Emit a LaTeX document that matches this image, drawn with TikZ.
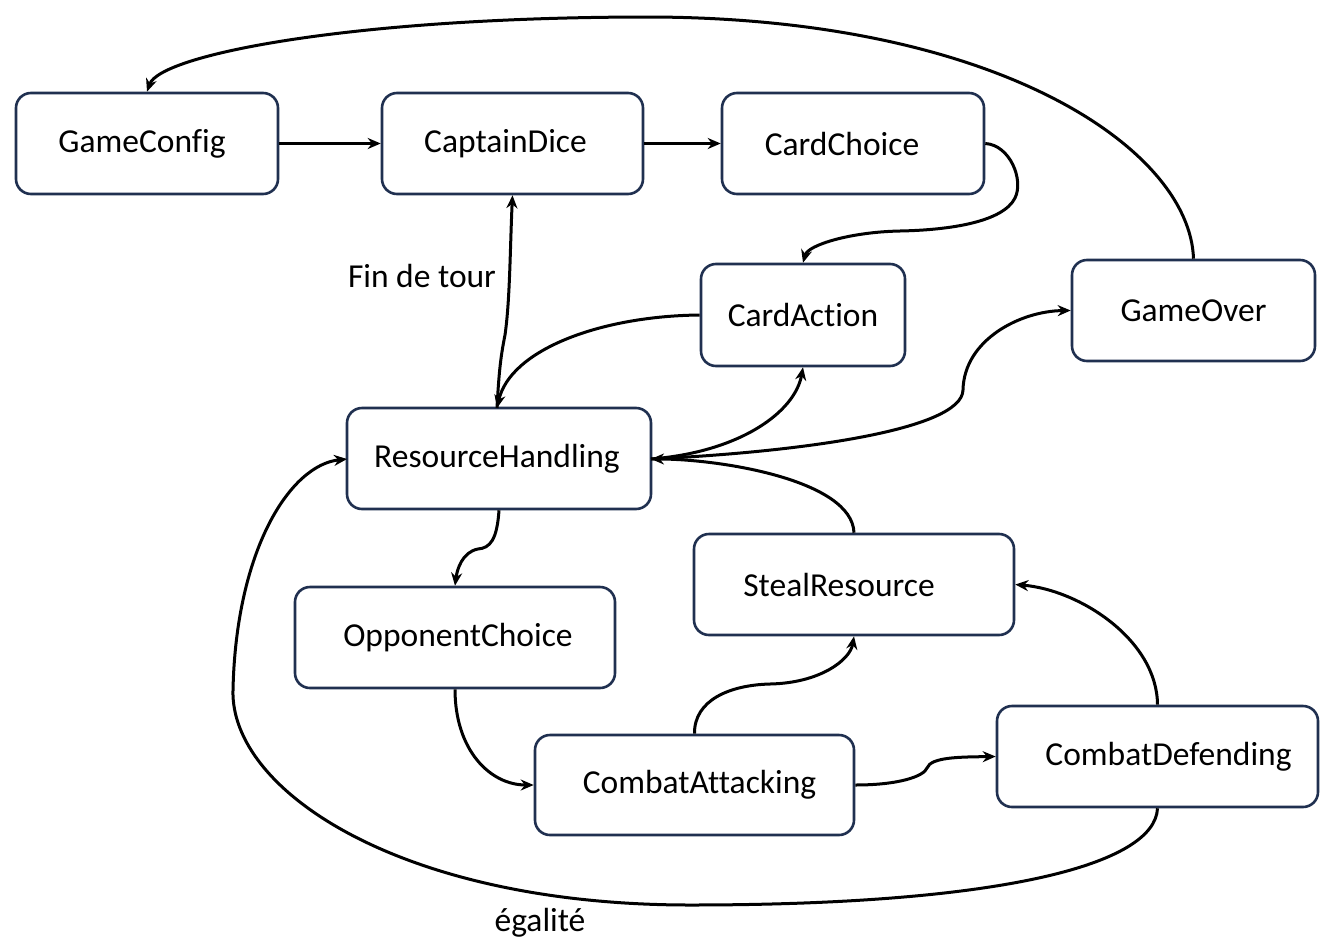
\documentclass[tikz,border=0pt]{standalone}
\usepackage{fontspec}
\setmainfont{Carlito}[Ligatures=NoCommon]
\usetikzlibrary{arrows.meta}
\definecolor{boxline}{RGB}{32,48,80}
\tikzset{
  state/.style={draw=boxline, line width=2.6pt, rounded corners=15pt, fill=white,
    inner sep=0pt, font=\fontsize{33.5}{38}\selectfont},
  conn/.style={line width=3pt, -{Stealth[length=13pt,width=11pt]}},
  lbl/.style={font=\fontsize{33.5}{38}\selectfont, inner sep=0pt}
}
\begin{document}
\begin{tikzpicture}[x=1pt,y=-1pt]
\useasboundingbox (0,0) rectangle (1336,945);
\node[state, minimum width=262, minimum height=101] (gc) at (147,143.5) {\hspace*{-10pt}GameConfig};
\node[state, minimum width=261, minimum height=101] (cd) at (512.5,143.5) {\hspace*{-14pt}CaptainDice};
\node[state, minimum width=262, minimum height=101] (cc) at (853,143.5) {\hspace*{-22pt}CardChoice};
\node[state, minimum width=204, minimum height=102] (ca) at (803,315) {CardAction};
\node[state, minimum width=243, minimum height=101] (go) at (1193.5,310.5) {GameOver};
\node[state, minimum width=304, minimum height=101] (rh) at (499,458.5) {\hspace*{-4pt}ResourceHandling};
\node[state, minimum width=320, minimum height=101] (oc) at (455,637.5) {\hspace*{6pt}OpponentChoice};
\node[state, minimum width=320, minimum height=101] (sr) at (854,584.5) {\hspace*{-30pt}StealResource};
\node[state, minimum width=319, minimum height=100] (cat) at (694.5,785) {\hspace*{10pt}CombatAttacking};
\node[state, minimum width=321, minimum height=101] (cdf) at (1157.5,756.5) {\hspace*{22pt}CombatDefending};

\coordinate (rhT) at (497,408);
\coordinate (rhR) at (651,459);
\coordinate (rhL) at (347,459);

\draw[conn] (gc.east) -- (cd.west);
\draw[conn] (cd.east) -- (cc.west);
\draw[conn] (cc.east) .. controls (1010,145) and (1024,180) .. (1015,198)
  .. controls (1003,222) and (950,230) .. (900,231)
  .. controls (850,232) and (808,245) .. (ca.north);
\draw[conn] (rhT) .. controls (499,370) and (501,355) .. (505,335)
  .. controls (510,300) and (510,250) .. (cd.south);
\node[lbl] (fin) at (422,276) {Fin de tour};
\draw[conn] (ca.west) .. controls (600,316) and (510,350) .. (rhT);
\draw[conn] (rhR) .. controls (740,452) and (795,412) .. (ca.south);
\draw[conn] (rhR) .. controls (800,452) and (962,430) .. (963,390)
  .. controls (964,340) and (1020,311) .. (go.west);
\draw[conn] (sr.north) .. controls (852,480) and (720,459) .. (rhR);
\draw[conn] (rh.south) .. controls (497,540) and (490,548) .. (478,549)
  .. controls (462,552) and (457,570) .. (oc.north);
\draw[conn] (oc.south) .. controls (455,750) and (490,785) .. (cat.west);
\draw[conn] (cat.north) .. controls (694,700) and (730,685) .. (770,684)
  .. controls (820,683) and (850,660) .. (sr.south);
\draw[conn] (cat.east) .. controls (900,785) and (924,776) .. (927,768)
  .. controls (931,757) and (960,757) .. (cdf.west);
\draw[conn] (cdf.north) .. controls (1157,640) and (1080,590) .. (sr.east);
\draw[conn] (cdf.south) .. controls (1155,865) and (1000,905) .. (690,905)
  .. controls (400,905) and (230,790) .. (233,690)
  .. controls (236,550) and (290,465) .. (rhL);
\node[lbl] (eg) at (540,923) {égalité};
\draw[conn] (go.north) .. controls (1190,150) and (1000,18) .. (650,17)
  .. controls (350,17) and (160,55) .. (gc.north);
\end{tikzpicture}
\end{document}
